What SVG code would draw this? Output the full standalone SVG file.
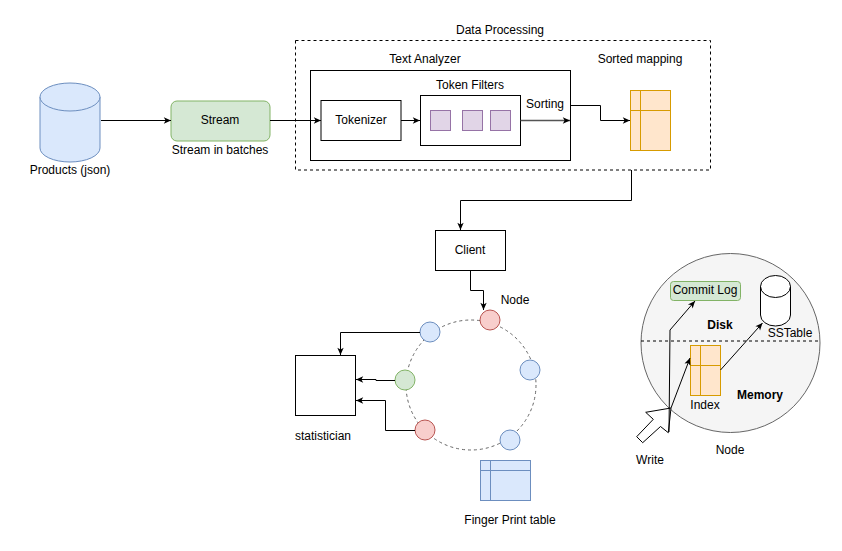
<svg xmlns="http://www.w3.org/2000/svg" width="842" height="551" viewBox="0 0 842 551">
<defs>
<style>
text{font-family:"Liberation Sans",Arial,sans-serif;font-size:12px;fill:#000;text-anchor:middle;dominant-baseline:central}
.b{font-weight:bold}
.box{fill:#fff;stroke:#000;stroke-width:1}
.ln{fill:none;stroke:#000;stroke-width:1}
.ar{marker-end:url(#arr)}
.pu{fill:#e1d5e7;stroke:#9673a6}
.or{fill:#ffe6cc;stroke:#d79b00}
.bl{fill:#dae8fc;stroke:#6c8ebf}
.gr{fill:#d5e8d4;stroke:#82b366}
.rd{fill:#f8cecc;stroke:#b85450}
</style>
<marker id="arr" viewBox="0 0 10 10" refX="9" refY="5" markerWidth="9" markerHeight="9" markerUnits="userSpaceOnUse" orient="auto">
<path d="M1,1.5 L9,5 L1,8.5 L3,5 z" fill="#000"/>
</marker>
</defs>

<g id="products">
<path class="bl" d="M40,97 A30,14 0 0 1 100,97 L100,148 A30,14 0 0 1 40,148 Z"/>
<path class="bl" d="M40,97 A30,14 0 0 0 100,97" fill="none"/>
<text x="70" y="170">Products (json)</text>
</g>

<g id="stream">
<rect class="gr" x="171" y="101" width="99" height="40" rx="6"/>
<text x="220" y="120">Stream</text>
<text x="220" y="150">Stream in batches</text>
</g>

<g id="data-processing">
<rect x="295.5" y="40.5" width="415" height="129.5" fill="none" stroke="#000" stroke-dasharray="3,3"/>
<text x="500" y="30">Data Processing</text>
</g>

<g id="text-analyzer">
<rect class="box" x="310.5" y="70.5" width="260" height="90"/>
<text x="425" y="59">Text Analyzer</text>
</g>

<g id="tokenizer">
<rect class="box" x="321" y="100.5" width="80" height="40"/>
<text x="361" y="120">Tokenizer</text>
</g>

<g id="token-filters">
<rect class="box" x="420.5" y="95.5" width="100" height="50"/>
<text x="470" y="85">Token Filters</text>
<rect class="pu" x="430.5" y="110.5" width="20" height="20"/>
<rect class="pu" x="462.5" y="110.5" width="20" height="20"/>
<rect class="pu" x="490.5" y="110.5" width="20" height="20"/>
</g>

<g id="sorted-mapping">
<rect class="or" x="630.5" y="90.5" width="40" height="60"/>
<line x1="640.5" y1="90.5" x2="640.5" y2="150.5" stroke="#d79b00"/>
<line x1="630.5" y1="110.5" x2="670.5" y2="110.5" stroke="#d79b00"/>
<text x="640" y="59">Sorted mapping</text>
</g>

<g id="client">
<rect class="box" x="435.5" y="230.5" width="70" height="40"/>
<text x="470" y="250">Client</text>
</g>

<g id="ring">
<circle cx="471" cy="385" r="65" fill="none" stroke="#666" stroke-dasharray="3,3"/>
<circle class="rd" cx="490" cy="320" r="10"/>
<circle class="bl" cx="430" cy="332" r="10"/>
<circle class="bl" cx="530" cy="370" r="10"/>
<circle class="gr" cx="405" cy="380" r="10"/>
<circle class="rd" cx="425" cy="430" r="10"/>
<circle class="bl" cx="510" cy="440" r="10"/>
<text x="515" y="300">Node</text>
</g>

<g id="statistician">
<rect class="box" x="295.5" y="355.5" width="60" height="60"/>
<text x="323" y="436">statistician</text>
</g>

<g id="finger-print-table">
<rect class="bl" x="480.5" y="460.5" width="50" height="40"/>
<line x1="490.5" y1="460.5" x2="490.5" y2="500.5" stroke="#6c8ebf"/>
<line x1="480.5" y1="470.5" x2="530.5" y2="470.5" stroke="#6c8ebf"/>
<text x="510" y="520">Finger Print table</text>
</g>

<g id="storage-node">
<circle cx="730.5" cy="343" r="89.5" fill="#f5f5f5" stroke="#666"/>
<line x1="641" y1="341" x2="819" y2="341" stroke="#000" stroke-dasharray="3,3"/>
<text class="b" x="720" y="325">Disk</text>
<text class="b" x="760" y="395">Memory</text>
<text x="730" y="450">Node</text>
</g>

<g id="commit-log">
<rect class="gr" x="670.5" y="281.5" width="70" height="19" rx="3"/>
<text x="705" y="290">Commit Log</text>
</g>

<g id="sstable">
<path d="M760.5,286.5 A15,11 0 0 1 790.5,286.5 L790.5,315 A15,11 0 0 1 760.5,315 Z" fill="#fff" stroke="#000"/>
<path d="M760.5,286.5 A15,11 0 0 0 790.5,286.5" fill="none" stroke="#000"/>
<text x="790" y="333">SSTable</text>
</g>

<g id="index">
<rect class="or" x="690.5" y="345.5" width="30" height="50"/>
<line x1="700.5" y1="345.5" x2="700.5" y2="395.5" stroke="#d79b00"/>
<line x1="690.5" y1="365.5" x2="720.5" y2="365.5" stroke="#d79b00"/>
<text x="705" y="405">Index</text>
</g>

<g id="write">
<path d="M671,408 L645.7,412.3 L653.3,419.3 L636.7,436.7 L642.7,442.7 L660.5,426.5 L668.3,432.7 Z" fill="#fff" stroke="#000"/>
<text x="650" y="460">Write</text>
</g>

<g id="connectors">
<path class="ln ar" d="M101,120.5 L171,120.5"/>
<path class="ln ar" d="M270,120.5 L321,120.5"/>
<path class="ln ar" d="M401,120.5 L420,120.5"/>
<path class="ar" d="M520.5,120.5 L570,120.5" fill="none" stroke="#555" stroke-width="1.3"/>
<text x="545" y="104">Sorting</text>
<path class="ln ar" d="M570.5,105.5 L600.5,105.5 L600.5,120.5 L630,120.5"/>
<path class="ln ar" d="M631.5,170 L631.5,200.5 L460.5,200.5 L460.5,230"/>
<path class="ln ar" d="M470.5,270.5 L470.5,290.5 L483.5,290.5 L483.5,310"/>
<path class="ln ar" d="M420,332.5 L340.5,332.5 L340.5,355"/>
<path class="ln ar" d="M395,380.5 L376,380.5 L376,379.5 L356,379.5"/>
<path class="ln ar" d="M415,430.5 L385.5,430.5 L385.5,400.5 L356,400.5"/>
<path class="ln ar" d="M669,432 L670,330 L695,301"/>
<path class="ln ar" d="M671,408 L690,358"/>
<path class="ln ar" d="M720.5,370 L762.5,323"/>
</g>
</svg>
